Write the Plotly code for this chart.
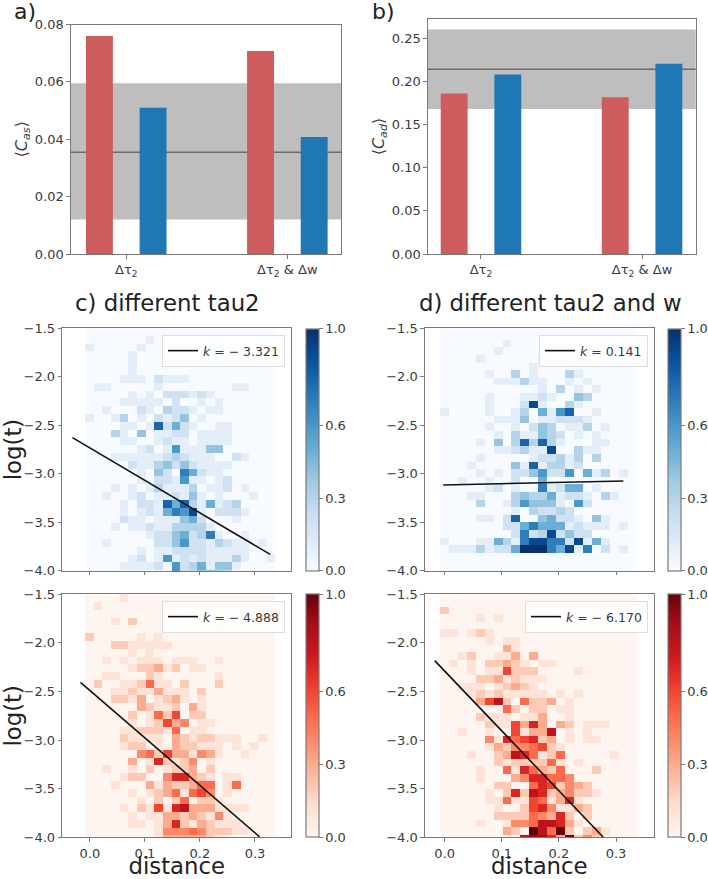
import numpy as np
import plotly.graph_objects as go

W, H = 708, 879

# ---- bar data ----
bar_cats = ["Δτ<sub>2</sub>", "Δτ<sub>2</sub> & Δw"]
cas_red = [0.076, 0.0708]
cas_blue = [0.051, 0.0408]
cas_band = (0.012, 0.0595)
cas_mean = 0.0355
cad_red = [0.186, 0.1815]
cad_blue = [0.208, 0.2205]
cad_band = (0.168, 0.26)
cad_mean = 0.214

# ---- density grids: one text row per histogram row, top to bottom, 22 columns, tenths (a = 1.0) ----
blue_tau2 = [
"0000 0000 0000 0000 0000 00",
"0000 0001 0000 0000 0000 00",
"1000 0010 0000 0000 0000 00",
"0000 0100 0000 0000 0000 00",
"0000 0100 0000 0000 0000 00",
"0000 0100 0000 0000 0000 00",
"0000 1110 2111 0000 0000 00",
"0110 0000 1000 0000 0110 00",
"0000 0101 0222 1210 0000 00",
"0000 1111 1020 0101 0000 00",
"0010 0021 0322 1011 0000 00",
"1001 3010 2124 0100 0000 00",
"0000 1101 8252 1001 1000 00",
"0003 1040 1122 0111 1000 00",
"0000 1100 1211 0111 1000 00",
"0000 0012 0161 1144 0000 00",
"0001 1111 1232 1110 0210 00",
"0000 0211 3424 2111 1000 00",
"0000 0010 4207 5211 0000 00",
"0000 0010 2216 1101 2000 00",
"0001 0101 3111 3011 2010 00",
"0010 0120 1121 4101 0001 00",
"0000 1022 1858 3151 2300 00",
"0000 1012 1576 9102 2210 00",
"0000 2110 1114 5200 0100 00",
"0001 0112 1133 3310 0000 00",
"0000 0001 2245 2371 0010 00",
"0010 0000 2246 2213 2110 10",
"0000 0010 1122 2211 1110 00",
"0000 0120 1612 1211 1310 01",
"0000 1111 2062 3514 4100 00",
"0000 0000 0083 3554 3000 00",
]
blue_tau2_w = [
"0000 0001 0000 0000 0000 00",
"0000 0010 0000 0000 0000 00",
"0000 1000 0001 0010 0000 00",
"0000 0000 0010 0000 0000 00",
"0000 0100 3010 0031 0000 00",
"0000 0011 1311 0010 1000 00",
"0000 0000 0001 0301 0100 00",
"0000 0100 0112 1004 3000 00",
"0000 0100 0291 0031 0000 00",
"1000 0100 1305 1680 0100 00",
"0000 0011 1401 1222 1000 00",
"0000 0100 1024 3011 3010 00",
"0000 0010 3114 3201 0100 00",
"0000 1040 3838 3100 0110 00",
"0000 0011 2311 9003 1100 00",
"0000 1000 0012 2313 0300 00",
"0001 0000 4181 3312 0000 00",
"0000 1010 2246 2260 5130 10",
"0010 0100 2005 0000 0000 00",
"0000 0120 1007 1255 0100 00",
"0001 1000 3433 5122 1031 00",
"0000 3001 3644 4106 2000 00",
"0000 0000 1032 2320 0000 00",
"0000 1102 8004 5221 0410 00",
"0000 0002 2575 5512 1110 10",
"0000 0000 2723 9242 2000 00",
"1000 1153 1799 7729 1510 00",
"0111 3122 5aaa 7591 7020 10",
]
red_tau2 = [
"0000 1000 0000 0000 0000 00",
"0100 0000 0000 0000 0000 00",
"0000 0000 0000 0000 0000 00",
"0001 0200 0000 0000 0000 00",
"0000 0000 0000 0001 0000 00",
"2000 0010 1000 0000 0000 00",
"0002 2111 1100 0000 0000 00",
"0000 0101 0000 0000 0000 00",
"0010 1011 1011 1001 0000 00",
"0000 0122 3120 1100 0000 00",
"0011 0002 1000 0001 0000 00",
"0200 1125 1102 0002 0000 00",
"0001 1211 3111 0200 0000 00",
"0002 2130 1231 0100 0000 00",
"0000 0032 1120 3100 0000 00",
"0000 0201 5260 2200 0000 00",
"0000 0101 2634 0110 0000 00",
"0000 1122 2150 1100 0000 00",
"0000 2111 1032 1221 1100 10",
"0000 1220 1032 2111 0101 00",
"0000 0045 2633 1431 0010 00",
"0000 0301 7212 4010 0000 00",
"0010 0102 0122 3020 0000 00",
"0000 1220 0477 3210 1100 00",
"0001 0003 1322 3550 1500 00",
"0000 0101 2351 5640 1000 00",
"0000 0010 2025 0221 0000 00",
"0000 1021 6178 3331 1110 00",
"0000 0101 1332 3214 1000 00",
"0000 0110 1372 1321 1100 00",
"0000 0000 1444 5422 2110 00",
"0000 0000 1333 3321 0000 00",
]
red_tau2_w = [
"2000 0000 0000 0000 0000 00",
"0000 1010 0000 0000 0000 00",
"0000 0000 0000 0000 0000 00",
"1101 2100 0000 0000 0000 00",
"0000 0101 1000 0000 0000 00",
"0000 0003 1000 0000 0000 00",
"0012 0011 3030 0000 0000 00",
"0101 0223 2101 1000 0000 00",
"0001 0116 2220 0001 0000 00",
"0000 2231 2111 0000 0000 00",
"0011 1012 3210 0000 0000 00",
"0001 2121 1111 0101 0000 00",
"0000 3682 0522 3010 0000 00",
"0000 0005 2022 0110 0000 00",
"0000 2111 0113 0010 0000 00",
"0000 0211 6373 0320 1110 00",
"0010 0100 6133 8010 1000 00",
"0000 0417 5672 3010 1100 00",
"0000 0132 4456 2100 0000 00",
"0001 0023 8751 2500 0001 00",
"0000 0021 2222 5101 0000 00",
"0000 1005 1753 2500 0200 00",
"0000 1000 3477 5540 0000 00",
"0000 0022 0057 6243 2000 00",
"0000 0102 7287 2342 2100 00",
"0000 0115 1165 1371 0000 00",
"0000 0010 0267 4113 2000 00",
"0000 0022 2254 3720 2000 00",
"0000 1001 4458 8731 0000 00",
"0000 0003 20a8 5a20 2310 00",
"0000 0000 0899 73a2 4200 00",
]

# histogram bins: x start and width; y: lower edge of last text row and row height
bin_x0 = -0.0085
bin_dx = 0.01565
row_spec = {"bt": (-4.0735, 0.0805), "bw": (-3.814, 0.0784), "rt": (-4.066, 0.0802), "rw": (-4.047, 0.0781)}

# fit lines
fit_bt = ([-0.0316, 0.3278], [-2.628, -3.832], "<i>k</i> = − 3.321")
fit_bw = ([-0.0025, 0.3128], [-3.116, -3.075], "<i>k</i> = 0.141")
fit_rt = ([-0.017, 0.3084], [-2.405, -3.995], "<i>k</i> = − 4.888")
fit_rw = ([-0.0175, 0.2777], [-2.182, -4.0], "<i>k</i> = − 6.170")

y_ticks = [-1.5, -2.0, -2.5, -3.0, -3.5, -4.0]
x_ticks = [0.0, 0.1, 0.2, 0.3]
cb_ticks = [0.0, 0.3, 0.6, 1.0]

# ---- layout in pixels ----
TXT = "#3a3a3a"
SPINE = "#7a7a7a"
FF = "DejaVu Sans"

def px_x(a, b):
    return [a / W, b / W]

def px_y(top, bottom):
    return [1 - bottom / H, 1 - top / H]

def grid(rows, spec):
    arr = np.array([[int(c, 16) / 10 for c in r.replace(" ", "")] for r in rows], dtype=float)
    arr = arr[::-1]  # bottom row first
    y0, dy = spec
    while y0 > -4.0:
        arr = np.vstack([np.zeros((1, 22)), arr])
        y0 -= dy
    while y0 + dy * arr.shape[0] < -1.5:
        arr = np.vstack([arr, np.zeros((1, 22))])
    return arr, y0, dy

fig = go.Figure()
axis_common = dict(showline=True, mirror=True, linecolor=SPINE, linewidth=1.2, showgrid=False, zeroline=False,
                   ticks="outside", ticklen=3.5, tickwidth=1, tickcolor=SPINE,
                   tickfont=dict(family=FF, size=13, color=TXT))

# bars
def add_bars(n, red, blue):
    for vals, col, off in ((red, "#cd5c5c", -0.25), (blue, "#1f77b4", 0.083)):
        fig.add_trace(go.Bar(x=[0, 1], y=vals, width=0.167, offset=off, marker=dict(color=col, line_width=0),
                             showlegend=False, xaxis=f"x{n}", yaxis=f"y{n}"))

add_bars(1, cas_red, cas_blue)
add_bars(2, cad_red, cad_blue)

fig.update_layout(
    xaxis=dict(domain=px_x(71, 341), range=[-0.343, 1.333], tickvals=[0, 1], ticktext=bar_cats, anchor="y", **axis_common),
    yaxis=dict(domain=px_y(24.5, 254), range=[0, 0.08], tickvals=[0, 0.02, 0.04, 0.06, 0.08], tickformat=".2f", anchor="x",
               title=dict(text="⟨<i>C<sub>as</sub></i>⟩", font=dict(family=FF, size=16, color=TXT), standoff=3), **axis_common),
    xaxis2=dict(domain=px_x(428, 695.7), range=[-0.329, 1.333], tickvals=[0, 1], ticktext=bar_cats, anchor="y2", **axis_common),
    yaxis2=dict(domain=px_y(19, 254), range=[0, 0.2723], tickvals=[0, 0.05, 0.1, 0.15, 0.2, 0.25], tickformat=".2f", anchor="x2",
                title=dict(text="⟨<i>C<sub>ad</sub></i>⟩", font=dict(family=FF, size=16, color=TXT), standoff=3), **axis_common),
)

shapes = []
for n, band, mean in ((1, cas_band, cas_mean), (2, cad_band, cad_mean)):
    xr = "x domain" if n == 1 else "x2 domain"
    yr = "y" if n == 1 else "y2"
    shapes.append(dict(type="rect", xref=xr, yref=yr, x0=0, x1=1, y0=band[0], y1=band[1],
                       fillcolor="#bebebe", line_width=0, layer="below"))
    shapes.append(dict(type="line", xref=xr, yref=yr, x0=0, x1=1, y0=mean, y1=mean,
                       line=dict(color="#6b6b6b", width=1.5), layer="below"))

# heat panels
panels = [
    (3, blue_tau2, "bt", "Blues", fit_bt, (62.3, 291.3), (328.3, 570.7), -0.05, (305.7, 319), False, True, 285, 335),
    (4, blue_tau2_w, "bw", "Blues", fit_bw, (425, 653.7), (328.3, 570.7), -0.0345, (668.3, 681.7), False, False, 648, 335),
    (5, red_tau2, "rt", "Reds", fit_rt, (62.3, 291.3), (594.3, 837.3), -0.05, (305.7, 319), True, True, 285, 601),
    (6, red_tau2_w, "rw", "Reds", fit_rw, (425, 653.7), (594.3, 837.3), -0.0345, (668.3, 681.7), True, False, 648, 601),
]
for i, (n, rows, key, cmap, fit, xd, yd, xl, cb, xlabels, ylab, leg_r, leg_t) in enumerate(panels):
    z, y0, dy = grid(rows, row_spec[key])
    fig.add_trace(go.Heatmap(
        z=z, x0=bin_x0 + bin_dx / 2, dx=bin_dx, y0=y0 + dy / 2, dy=dy, zmin=0, zmax=1, colorscale=cmap,
        xaxis=f"x{n}", yaxis=f"y{n}", hoverinfo="skip",
        colorbar=dict(x=cb[0] / W, xanchor="left", xpad=0, ypad=0, thickness=cb[1] - cb[0], thicknessmode="pixels",
                      y=1 - yd[1] / H, yanchor="bottom", len=(yd[1] - yd[0]) / H, lenmode="fraction",
                      outlinecolor=SPINE, outlinewidth=1.2, ticks="outside", ticklen=3.5, tickwidth=1, tickcolor=SPINE,
                      tickvals=cb_ticks, ticktext=[f"{v:.1f}" for v in cb_ticks],
                      tickfont=dict(family=FF, size=13, color=TXT)),
    ))
    legname = "legend" if i == 0 else f"legend{i + 1}"
    fig.add_trace(go.Scatter(x=fit[0], y=fit[1], mode="lines", line=dict(color="#111111", width=1.6), name=fit[2],
                             showlegend=True, legend=legname, xaxis=f"x{n}", yaxis=f"y{n}", hoverinfo="skip"))
    xa = dict(domain=px_x(*xd), range=[xl, 0.366], tickvals=x_ticks, anchor=f"y{n}", **axis_common)
    if xlabels:
        xa.update(tickformat=".1f", title=dict(text="distance", font=dict(family=FF, size=22.8, color="#222222"), standoff=3))
    else:
        xa.update(showticklabels=False)
    ya = dict(domain=px_y(*yd), range=[-4.0, -1.5], tickvals=y_ticks, tickformat=".1f", anchor=f"x{n}", **axis_common)
    if ylab:
        ya.update(title=dict(text="log(t)", font=dict(family=FF, size=22.8, color="#222222"), standoff=0))
    fig.update_layout({f"xaxis{n}": xa, f"yaxis{n}": ya})
    fig.update_layout({legname: dict(x=leg_r / W, xanchor="right", y=1 - leg_t / H, yanchor="top",
                                     bgcolor="rgba(255,255,255,0.85)", bordercolor="#dddddd", borderwidth=1,
                                     font=dict(family=FF, size=12.5, color=TXT), tracegroupgap=0, itemwidth=30)})

def note(text, x, y, size):
    return dict(text=text, xref="paper", yref="paper", x=x / W, y=1 - y / H, xanchor="left", yanchor="middle",
                showarrow=False, font=dict(family=FF, size=size, color="#222222"))

fig.update_layout(
    width=W, height=H, margin=dict(l=0, r=0, t=0, b=0, autoexpand=False),
    paper_bgcolor="white", plot_bgcolor="white", shapes=shapes, barmode="overlay",
    font=dict(family=FF, color=TXT),
    annotations=[
        note("a)", 12, 11, 22), note("b)", 370, 11, 22),
        note("c) different tau2", 73, 303, 22.8), note("d) different tau2 and w", 417, 303, 22.8),
    ],
)
fig.write_html("out.html", config=dict(displayModeBar=False), post_script="document.body.style.margin='0';")
